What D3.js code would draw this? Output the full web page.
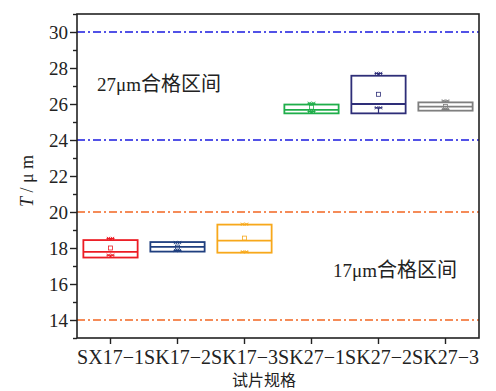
<!DOCTYPE html>
<html>
<head>
<meta charset="utf-8">
<script src="https://cdn.jsdelivr.net/npm/d3@7"></script>
<style>
  html, body { margin: 0; padding: 0; background: #fff; }
  svg { display: block; }
</style>
</head>
<body>
<svg id="chart" width="496" height="391"></svg>
<script>
// Specimen categories and their colours
const categories = ["SX17\u22121", "SK17\u22122", "SK17\u22123", "SK27\u22121", "SK27\u22122", "SK27\u22123"];
const colors = ["#ec1c24", "#1f3f7f", "#f7a81b", "#1fae4a", "#2e2e78", "#7f7f7f"];

// Box statistics for thickness T (µm)
const q1Values     = [17.47, 17.80, 17.74, 25.48, 25.48, 25.63];
const medianValues = [17.79, 18.06, 18.41, 25.67, 26.00, 25.85];
const q3Values     = [18.44, 18.33, 19.30, 25.97, 27.57, 26.09];
const meanValues   = [18.00, 18.05, 18.55, 25.82, 26.54, 25.86];
const highValues   = [18.53, 18.30, 19.32, 26.04, 27.70, 26.17];
const lowValues    = [17.60, 17.86, 17.79, 25.58, 25.79, 25.70];

// Tolerance limits
const limit27 = [30, 24];
const limit17 = [20, 14];
const yTicks = [14, 16, 18, 20, 22, 24, 26, 28, 30];
const yMinorTicks = [13, 15, 17, 19, 21, 23, 25, 27, 29, 31];

const SERIF = "'Times New Roman', 'Liberation Serif', 'DejaVu Serif', serif";
const CJK = "'Noto Sans CJK SC', 'Noto Sans CJK JP', sans-serif";

const svg = d3.select("#chart");
const plot = { left: 77, right: 479, top: 14, bottom: 338 };

const x = d3.scaleBand().domain(categories).range([plot.left, plot.right]).padding(0);
const y = d3.scaleLinear().domain([13, 31]).range([plot.bottom, plot.top]);
const boxW = x.bandwidth() * 0.81;

// Tolerance lines (dash-dot)
const limitLine = (v, c) => svg.append("line")
  .attr("x1", plot.left).attr("x2", plot.right)
  .attr("y1", y(v)).attr("y2", y(v))
  .attr("stroke", c).attr("stroke-width", 1.6)
  .attr("stroke-dasharray", "8,3,2,3");
limit27.forEach(v => limitLine(v, "#1a1adf"));
limit17.forEach(v => limitLine(v, "#f26522"));

// Boxes
categories.forEach((cat, i) => {
  const cx = x(cat) + x.bandwidth() / 2;
  const c = colors[i];
  const g = svg.append("g");
  // whisker stems
  g.append("line").attr("x1", cx).attr("x2", cx)
    .attr("y1", y(q3Values[i])).attr("y2", y(highValues[i]))
    .attr("stroke", c).attr("stroke-width", 1.2);
  g.append("line").attr("x1", cx).attr("x2", cx)
    .attr("y1", y(q1Values[i])).attr("y2", y(lowValues[i]))
    .attr("stroke", c).attr("stroke-width", 1.2);
  // box
  g.append("rect")
    .attr("x", cx - boxW / 2).attr("width", boxW)
    .attr("y", y(q3Values[i])).attr("height", y(q1Values[i]) - y(q3Values[i]))
    .attr("fill", "none").attr("stroke", c).attr("stroke-width", 1.8);
  // median
  g.append("line")
    .attr("x1", cx - boxW / 2).attr("x2", cx + boxW / 2)
    .attr("y1", y(medianValues[i])).attr("y2", y(medianValues[i]))
    .attr("stroke", c).attr("stroke-width", 1.8);
  // whisker end caps with cross marks
  [highValues[i], lowValues[i]].forEach(v => {
    const yy = y(v);
    g.append("line").attr("x1", cx - 4).attr("x2", cx + 4)
      .attr("y1", yy).attr("y2", yy).attr("stroke", c).attr("stroke-width", 1.2);
    [-2, 2].forEach(dx => {
      g.append("path")
        .attr("d", `M${cx + dx - 1.6},${yy - 1.6}L${cx + dx + 1.6},${yy + 1.6}M${cx + dx - 1.6},${yy + 1.6}L${cx + dx + 1.6},${yy - 1.6}`)
        .attr("stroke", c).attr("stroke-width", 0.9).attr("fill", "none");
    });
  });
  // mean marker
  g.append("rect")
    .attr("x", cx - 2).attr("y", y(meanValues[i]) - 2)
    .attr("width", 4).attr("height", 4)
    .attr("fill", "none").attr("stroke", c).attr("stroke-width", 0.8);
});

// Frame
svg.append("rect")
  .attr("x", plot.left).attr("y", plot.top)
  .attr("width", plot.right - plot.left).attr("height", plot.bottom - plot.top)
  .attr("fill", "none").attr("stroke", "#222").attr("stroke-width", 1.6);

// Y axis
const yAxis = svg.append("g").attr("transform", `translate(${plot.left},0)`)
  .call(d3.axisLeft(y).tickValues(yTicks).tickSize(7).tickPadding(2).tickFormat(d3.format("d")))
  .attr("font-family", SERIF).attr("font-size", 19);
yAxis.select(".domain").remove();
yAxis.selectAll(".tick line").attr("stroke", "#222").attr("stroke-width", 1.4);
yAxis.selectAll(".tick text").attr("fill", "#222");
svg.append("g").attr("transform", `translate(${plot.left},0)`)
  .call(d3.axisLeft(y).tickValues(yMinorTicks).tickSize(4).tickFormat(""))
  .call(g => g.select(".domain").remove())
  .selectAll(".tick line").attr("stroke", "#222").attr("stroke-width", 1.4);

// X axis
const xAxis = svg.append("g").attr("transform", `translate(0,${plot.bottom})`)
  .call(d3.axisBottom(x).tickSize(6).tickPadding(6))
  .attr("font-family", SERIF).attr("font-size", 20);
xAxis.select(".domain").remove();
xAxis.selectAll(".tick line").attr("stroke", "#222").attr("stroke-width", 1.4);
xAxis.selectAll(".tick text").attr("fill", "#222");

// Axis titles
const yTitle = svg.append("text")
  .attr("transform", "translate(33,181) rotate(-90)")
  .attr("text-anchor", "middle").attr("font-size", 18).attr("fill", "#222")
  .attr("font-family", SERIF);
yTitle.append("tspan").attr("font-style", "italic").text("T");
yTitle.append("tspan").text(" / \u03bc m");

svg.append("text")
  .attr("x", 264).attr("y", 386)
  .attr("text-anchor", "middle").attr("font-size", 16).attr("fill", "#222")
  .attr("font-family", CJK)
  .text("试片规格");

// Tolerance zone labels
const zoneLabel = (xx, yy, num) => {
  const t = svg.append("text").attr("x", xx).attr("y", yy)
    .attr("font-size", 19).attr("fill", "#222").attr("font-family", SERIF);
  t.append("tspan").text(num + "\u03bcm");
  t.append("tspan").attr("font-family", CJK).attr("font-size", 20).text("合格区间");
};
zoneLabel(97, 91, "27");
zoneLabel(333, 277, "17");
</script>
</body>
</html>
